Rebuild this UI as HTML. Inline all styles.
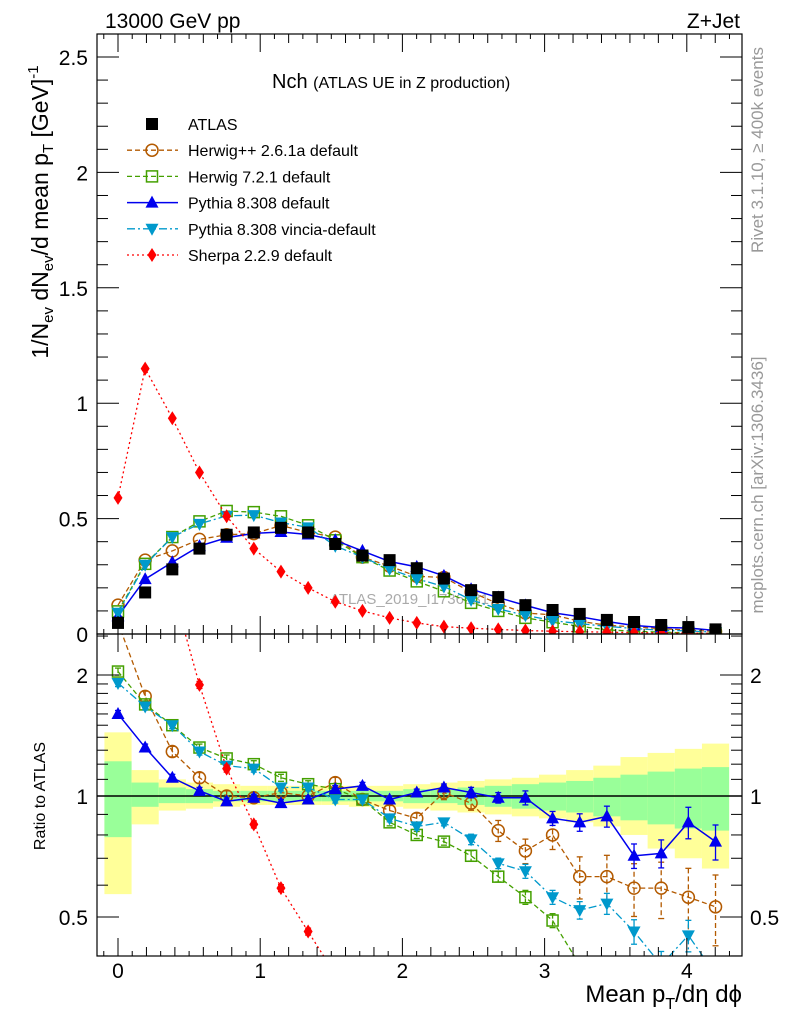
<!DOCTYPE html>
<html><head><meta charset="utf-8"><style>
html,body{margin:0;padding:0;background:#fff;overflow:hidden;}
svg{display:block;font-family:"Liberation Sans",sans-serif;}
</style></head><body>
<svg id="chart" width="786" height="1024" viewBox="0 0 786 1024" xmlns="http://www.w3.org/2000/svg"></svg>
<script>
const xCenters=[0,0.191,0.382,0.573,0.764,0.955,1.146,1.337,1.528,1.719,1.91,2.101,2.292,2.483,2.674,2.865,3.056,3.247,3.438,3.629,3.82,4.011,4.202];
const atlasVals=[0.048,0.18,0.28,0.37,0.43,0.44,0.46,0.44,0.39,0.34,0.32,0.285,0.24,0.19,0.16,0.125,0.104,0.087,0.061,0.052,0.039,0.03,0.02];
const herwigppVals=[0.125,0.32,0.36,0.41,0.43,0.435,0.47,0.44,0.42,0.333,0.294,0.25,0.245,0.182,0.131,0.091,0.083,0.055,0.038,0.031,0.023,0.017,0.011];
const herwig7Vals=[0.098,0.304,0.42,0.488,0.533,0.528,0.51,0.471,0.406,0.333,0.275,0.228,0.185,0.135,0.10,0.07,0.051,0.033,0.018,0.012,0.008,0.005,0.003];
const pythiaVals=[0.077,0.238,0.311,0.381,0.417,0.436,0.442,0.431,0.406,0.36,0.314,0.291,0.252,0.194,0.158,0.124,0.092,0.075,0.054,0.037,0.028,0.026,0.015];
const vinciaVals=[0.092,0.30,0.42,0.477,0.512,0.515,0.483,0.462,0.382,0.333,0.282,0.239,0.206,0.148,0.109,0.081,0.058,0.045,0.033,0.024,0.016,0.0135,0.0076];
const sherpaVals=[0.59,1.15,0.935,0.70,0.51,0.37,0.27,0.20,0.14,0.10,0.07,0.048,0.032,0.025,0.02,0.015,0.012,0.01,0.008,0.006,0.005,0.004,0.003];
const herwigppRatio=[2.7,1.77,1.29,1.11,1.0,0.99,1.02,1.0,1.08,0.98,0.92,0.88,1.02,0.96,0.82,0.73,0.80,0.63,0.63,0.59,0.59,0.56,0.53];
const herwig7Ratio=[2.04,1.69,1.50,1.32,1.24,1.20,1.11,1.07,1.04,0.98,0.86,0.80,0.77,0.71,0.63,0.56,0.49,0.38,0.30,0.24,0.2,0.17,0.14];
const pythiaRatio=[1.6,1.32,1.11,1.03,0.97,0.99,0.96,0.98,1.04,1.06,0.98,1.02,1.05,1.02,0.99,0.99,0.88,0.86,0.89,0.71,0.72,0.86,0.77];
const vinciaRatio=[1.91,1.67,1.50,1.29,1.19,1.17,1.05,1.05,0.98,0.98,0.88,0.84,0.86,0.78,0.68,0.65,0.56,0.52,0.54,0.46,0.38,0.45,0.36];
const sherpaRatio=[12.3,6.4,3.3,1.89,1.17,0.85,0.59,0.46,0.36,0.29,0.22,0.17,0.13,0.13,0.12,0.12,0.11,0.11,0.13,0.11,0.12,0.13,0.15];
const mcRelErr=[0.02,0.02,0.02,0.02,0.02,0.02,0.02,0.02,0.02,0.02,0.02,0.02,0.02,0.03,0.03,0.04,0.04,0.05,0.06,0.07,0.08,0.09,0.1];
const herwigppRelErr=[0.03,0.03,0.03,0.03,0.03,0.03,0.03,0.03,0.03,0.03,0.03,0.03,0.04,0.04,0.06,0.07,0.08,0.12,0.13,0.15,0.16,0.18,0.2];
const yellowHi=[1.44,1.16,1.10,1.08,1.07,1.06,1.06,1.06,1.06,1.06,1.06,1.07,1.08,1.09,1.10,1.11,1.13,1.16,1.19,1.25,1.28,1.31,1.35];
const yellowLo=[0.57,0.85,0.92,0.93,0.94,0.95,0.95,0.95,0.95,0.94,0.94,0.93,0.92,0.91,0.90,0.89,0.88,0.86,0.84,0.80,0.74,0.70,0.66];
const greenHi=[1.22,1.08,1.05,1.04,1.03,1.03,1.03,1.03,1.03,1.03,1.03,1.04,1.04,1.05,1.06,1.07,1.08,1.09,1.11,1.13,1.15,1.17,1.18];
const greenLo=[0.79,0.94,0.96,0.96,0.97,0.97,0.97,0.97,0.97,0.97,0.97,0.96,0.96,0.95,0.94,0.93,0.92,0.91,0.89,0.87,0.85,0.83,0.82];
const mainTicks=[0,0.5,1,1.5,2,2.5];
const ratioTicks=[0.5,1,2];
const xTicks=[0,1,2,3,4];

const NS="http://www.w3.org/2000/svg";
const svg=document.getElementById('chart');
const L=97,R=742,T=34,MB=634,RB=956;
const sx=v=>118+v*142.2;
const sy=v=>634-v*230.8;
const ry=v=>796-Math.log2(v)*121;
function el(tag,attrs,parent){const e=document.createElementNS(NS,tag);for(const k in attrs)e.setAttribute(k,attrs[k]);(parent||svg).appendChild(e);return e;}
function txt(s,x,y,attrs,parent){const e=el('text',Object.assign({x:x,y:y},attrs),parent);e.textContent=s;return e;}

const defs=el('defs',{});
const c1=el('clipPath',{id:'cm'},defs);el('rect',{x:L,y:T,width:R-L,height:MB-T},c1);
const c2=el('clipPath',{id:'cr'},defs);el('rect',{x:L,y:MB,width:R-L,height:RB-MB},c2);

const bands=el('g',{'clip-path':'url(#cr)'});


xCenters.forEach((c,i)=>{
  const x0=sx(c-0.0955),x1=sx(c+0.0955);
  const y=el('rect',{x:x0,y:ry(yellowHi[i]),width:x1-x0,height:ry(yellowLo[i])-ry(yellowHi[i]),fill:'#ffff99'},bands);
  
  
  const g=el('rect',{x:x0,y:ry(greenHi[i]),width:x1-x0,height:ry(greenLo[i])-ry(greenHi[i]),fill:'#99ff99'},bands);
  
  
});
el('line',{x1:L,x2:R,y1:ry(1),y2:ry(1),stroke:'#000','stroke-width':1.5});

const wm=txt('ATLAS_2019_I1736531',330,604,{'font-size':15,fill:'#aaa'});



function marker(g,type,x,y,color){
  const s=6;
  if(type==='sq')el('rect',{x:x-s,y:y-s,width:2*s,height:2*s,fill:color},g);
  else if(type==='osq')el('rect',{x:x-5.5,y:y-5.5,width:11,height:11,fill:'none',stroke:color,'stroke-width':1.5},g);
  else if(type==='circ')el('circle',{cx:x,cy:y,r:6,fill:'none',stroke:color,'stroke-width':1.5},g);
  else if(type==='tri')el('polygon',{points:`${x},${y-7} ${x-6.5},${y+5} ${x+6.5},${y+5}`,fill:color},g);
  else if(type==='itri')el('polygon',{points:`${x},${y+7} ${x-6.5},${y-5} ${x+6.5},${y-5}`,fill:color},g);
  else if(type==='dia')el('polygon',{points:`${x},${y-7} ${x-4.5},${y} ${x},${y+7} ${x+4.5},${y}`,fill:color},g);
}
const series=[
 {name:'herwigpp',main:herwigppVals,ratio:herwigppRatio,err:herwigppRelErr,color:'#b35a00',dash:'5,3',m:'circ',w:1.3},
 {name:'herwig7',main:herwig7Vals,ratio:herwig7Ratio,err:mcRelErr,color:'#44a000',dash:'5,3',m:'osq',w:1.3},
 {name:'pythia',main:pythiaVals,ratio:pythiaRatio,err:mcRelErr,color:'#0000ee',dash:'',m:'tri',w:1.5},
 {name:'vincia',main:vinciaVals,ratio:vinciaRatio,err:mcRelErr,color:'#0099cc',dash:'8,3,2,3',m:'itri',w:1.3},
 {name:'sherpa',main:sherpaVals,ratio:sherpaRatio,err:mcRelErr,color:'#ff0000',dash:'2,3',m:'dia',w:1.3}
];
series.forEach(s=>{
  const gm=el('g',{'clip-path':'url(#cm)'});
  
  
  el('polyline',{points:xCenters.map((c,i)=>sx(c)+','+sy(s.main[i])).join(' '),fill:'none',stroke:s.color,'stroke-width':s.w,'stroke-dasharray':s.dash},gm);
  xCenters.forEach((c,i)=>marker(gm,s.m,sx(c),sy(s.main[i]),s.color));
  const gr=el('g',{'clip-path':'url(#cr)'});
  
  
  el('polyline',{points:xCenters.map((c,i)=>sx(c)+','+ry(s.ratio[i])).join(' '),fill:'none',stroke:s.color,'stroke-width':s.w,'stroke-dasharray':s.dash},gr);
  xCenters.forEach((c,i)=>{
    const v=s.ratio[i],e=s.err[i]*v;
    const x=sx(c),y1=ry(v+e),y2=ry(Math.max(v-e,0.01));
    el('line',{x1:x,x2:x,y1:y1,y2:y2,stroke:s.color,'stroke-width':1.3,'stroke-dasharray':s.dash},gr);
    el('line',{x1:x-3,x2:x+3,y1:y1,y2:y1,stroke:s.color,'stroke-width':1.3},gr);
    el('line',{x1:x-3,x2:x+3,y1:y2,y2:y2,stroke:s.color,'stroke-width':1.3},gr);
    marker(gr,s.m,x,ry(v),s.color);
  });
});
const ga=el('g',{'clip-path':'url(#cm)'});


xCenters.forEach((c,i)=>marker(ga,'sq',sx(c),sy(atlasVals[i]),'#000'));

const f1=el('rect',{x:L,y:T,width:R-L,height:MB-T,fill:'none',stroke:'#000','stroke-width':1.2});


const f2=el('rect',{x:L,y:MB,width:R-L,height:RB-MB,fill:'none',stroke:'#000','stroke-width':1.2});



for(let v=0;v<=2.55;v+=0.1){const y=sy(v);const maj=Math.abs(v/0.5-Math.round(v/0.5))<1e-6;const l=maj?22:11;
 el('line',{x1:L,x2:L+l,y1:y,y2:y,stroke:'#000'});el('line',{x1:R,x2:R-l,y1:y,y2:y,stroke:'#000'});}
mainTicks.forEach(v=>{const t=txt(String(v),88,sy(v)+8,{'font-size':21,'text-anchor':'end'});
 });
for(let v=-0.1;v<=4.4;v+=0.1){const x=sx(v);if(x<L+1||x>R-1)continue;const maj=Math.abs(v-Math.round(v))<1e-6;const l=maj?18:(Math.abs(v*5-Math.round(v*5))<1e-6?9:5);
 el('line',{x1:x,x2:x,y1:MB,y2:MB-l,stroke:'#000'});el('line',{x1:x,x2:x,y1:T,y2:T+l,stroke:'#000'});
 el('line',{x1:x,x2:x,y1:RB,y2:RB-l,stroke:'#000'});el('line',{x1:x,x2:x,y1:MB,y2:MB+l,stroke:'#000'});}
xTicks.forEach(v=>{const t=txt(String(v),sx(v),978,{'font-size':21,'text-anchor':'middle'});
 });
[0.4,0.5,0.6,0.7,0.8,0.9,1,1.1,1.2,1.3,1.4,1.5,1.6,1.7,1.8,1.9,2,2.5].forEach(v=>{const y=ry(v);if(y<MB||y>RB)return;const maj=ratioTicks.includes(v);const l=maj?22:11;
 el('line',{x1:L,x2:L+l,y1:y,y2:y,stroke:'#000'});el('line',{x1:R,x2:R-l,y1:y,y2:y,stroke:'#000'});});
ratioTicks.forEach(v=>{const t=txt(String(v),88,ry(v)+8,{'font-size':21,'text-anchor':'end'});
 
 const t2=txt(String(v),750,ry(v)+8,{'font-size':21,'text-anchor':'start'});
 });

let t;
t=txt('13000 GeV pp',105,28,{'font-size':21});
t=txt('Z+Jet',740,28,{'font-size':21,'text-anchor':'end'});
t=el('text',{x:272,y:88,'font-size':20});t.innerHTML='Nch <tspan font-size="16">(ATLAS UE in Z production)</tspan>';

t=el('text',{transform:'translate(48,212) rotate(-90)','font-size':23,'text-anchor':'middle'});
t.innerHTML='1/N<tspan font-size="15" dy="5">ev</tspan><tspan dy="-5"> dN</tspan><tspan font-size="15" dy="5">ev</tspan><tspan dy="-5">/d mean p</tspan><tspan font-size="15" dy="5">T</tspan><tspan dy="-5"> [GeV]</tspan><tspan font-size="15" dy="-10">-1</tspan>';

t=txt('Ratio to ATLAS',0,0,{transform:'translate(45,796) rotate(-90)','font-size':16,'text-anchor':'middle'});

t=el('text',{x:742,y:1002,'font-size':24,'text-anchor':'end'});
t.innerHTML='Mean p<tspan font-size="16" dy="7">T</tspan><tspan dy="-7">/dη dϕ</tspan>';

t=txt('Rivet 3.1.10, ≥ 400k events',0,0,{transform:'translate(763,150) rotate(-90)','font-size':17,fill:'#999','text-anchor':'middle'});

t=txt('mcplots.cern.ch [arXiv:1306.3436]',0,0,{transform:'translate(763,485) rotate(-90)','font-size':17,fill:'#999','text-anchor':'middle'});


const legItems=[
 {label:'ATLAS',m:'sq',color:'#000',dash:null,w:1},
 {label:'Herwig++ 2.6.1a default',m:'circ',color:'#b35a00',dash:'5,3',w:1.3},
 {label:'Herwig 7.2.1 default',m:'osq',color:'#44a000',dash:'5,3',w:1.3},
 {label:'Pythia 8.308 default',m:'tri',color:'#0000ee',dash:'',w:1.5},
 {label:'Pythia 8.308 vincia-default',m:'itri',color:'#0099cc',dash:'8,3,2,3',w:1.3},
 {label:'Sherpa 2.2.9 default',m:'dia',color:'#ff0000',dash:'2,3',w:1.3}
];
legItems.forEach((it,i)=>{
  const g=el('g',{});
  
  
  const y=124+i*26.2;
  if(it.dash!==null)el('line',{x1:127,x2:178,y1:y,y2:y,stroke:it.color,'stroke-width':it.w,'stroke-dasharray':it.dash},g);
  marker(g,it.m,152,y,it.color);
  txt(it.label,188,y+6,{'font-size':16},g);
});
</script>
</body></html>
